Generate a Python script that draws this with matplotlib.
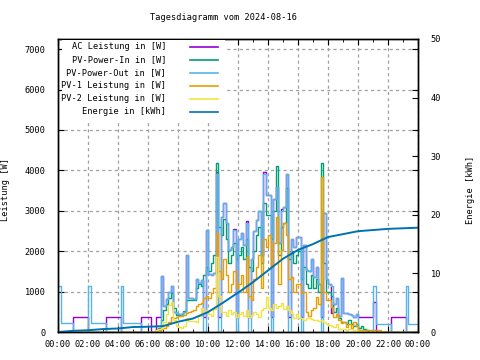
import numpy as np
import matplotlib.pyplot as plt
from matplotlib.patches import Rectangle

plt.rcParams['font.family'] = 'DejaVu Sans Mono'
plt.rcParams['font.size'] = 6.2

# 10-minute samples over the day: 00:00 .. 24:00 (145 points)
hours = np.arange(145) / 6.0

# night 00:00-05:50 (36 samples)
ac_night = [0] * 6 + [360] * 6 + [0] * 7 + [360] * 6 + [0] * 8 + [360] * 3
out_night = [1150] + [230] * 5 + [0] * 6 + [1150] + [230] * 6 + [0] * 6 + [1150] + [230] * 7 + [0] * 3
zero_night = [0] * 36

# day 06:00-21:00 (91 samples), one row per hour
ac_day = [360, 0, 0, 360, 360, 1390,
          650, 820, 980, 1150, 500, 470,
          440, 420, 500, 1900, 830, 850,
          820, 1300, 1220, 1290, 380, 2520,
          1430, 1400, 1450, 3950, 380, 2840,
          3190, 2700, 2030, 2100, 2560, 380,
          2300, 2450, 2150, 2750, 380, 1800,
          2500, 2780, 3000, 1900, 3950, 3400,
          3400, 380, 3300, 3600, 2200, 3050,
          3100, 3900, 380, 2290, 2100, 2360,
          2360, 380, 2150, 1530, 1500, 1800,
          1370, 1600, 1200, 380, 2940, 1300,
          1200, 460, 700, 850, 400, 1330,
          460, 480, 440, 420, 380, 450,
          364, 364, 364, 364, 364, 364,
          750]
in_day = [0, 0, 0, 50, 100, 300,
          540, 700, 850, 970, 600, 420,
          420, 450, 520, 800, 780, 800,
          800, 1100, 1200, 1150, 1400, 1620,
          1500, 1700, 1900, 4170, 2600, 2400,
          2800, 2300, 1700, 1900, 2200, 1800,
          1900, 2100, 1800, 2300, 1600, 1500,
          2000, 2400, 2600, 1700, 3200, 2900,
          2900, 2300, 3000, 4110, 1900, 2600,
          2700, 3560, 1800, 2000, 1700, 1900,
          2000, 1300, 1600, 1200, 1100, 1400,
          1100, 1300, 1000, 4170, 1700, 1000,
          1000, 900, 500, 600, 350, 250,
          250, 200, 300, 200, 150, 200,
          100, 150, 80, 50, 0, 0,
          0]
out_day = [0, 0, 0, 0, 0, 1390,
           650, 820, 980, 1150, 500, 470,
           440, 420, 500, 1900, 830, 850,
           820, 1300, 1220, 1290, 0, 2520,
           1430, 1400, 1450, 3900, 0, 2840,
           3190, 2700, 2030, 2100, 2520, 0,
           2300, 2450, 2150, 2700, 0, 1800,
           2500, 2780, 3000, 1900, 3900, 3400,
           3400, 0, 3300, 3600, 2200, 3000,
           3100, 3900, 0, 2290, 2100, 2360,
           2360, 0, 2150, 1530, 1500, 1800,
           1370, 1600, 1200, 0, 2940, 1300,
           1200, 1150, 700, 850, 400, 1330,
           460, 480, 440, 420, 380, 450,
           0, 0, 0, 0, 0, 0,
           1140]
pv1_day = [0, 0, 0, 30, 50, 80,
           100, 150, 250, 380, 350, 380,
           400, 400, 420, 460, 500, 520,
           550, 650, 700, 710, 850, 900,
           850, 960, 1100, 2450, 1500, 1300,
           1800, 1400, 1000, 1200, 1500, 1100,
           1200, 1400, 1000, 1860, 900, 800,
           1300, 1600, 1900, 1100, 2300, 2100,
           2400, 1600, 2200, 2850, 1200, 2030,
           2700, 2400, 1300, 1370, 1000, 1200,
           1200, 960, 1000, 500, 400, 540,
           600, 870, 700, 3840, 1000, 800,
           800, 620, 370, 450, 300, 230,
           250, 120, 200, 100, 250, 150,
           50, 50, 50, 50, 50, 50,
           50]
pv2_day = [0, 0, 0, 50, 80, 100,
           250, 450, 670, 750, 300, 150,
           130, 100, 150, 340, 260, 260,
           260, 250, 400, 590, 500, 550,
           450, 400, 560, 1860, 900, 500,
           500, 400, 550, 450, 500, 380,
           450, 500, 400, 540, 370, 420,
           500, 450, 380, 540, 600, 870,
           600, 540, 700, 600, 650, 710,
           560, 650, 540, 480, 350, 450,
           350, 340, 300, 350, 340, 320,
           300, 300, 280, 300, 250, 200,
           180, 150, 130, 200, 70, 80,
           70, 60, 70, 80, 60, 50,
           30, 20, 0, 0, 0, 0,
           0]

# evening 21:10-24:00 (18 samples)
ac_eve = [0] * 6 + [364] * 6 + [0] * 6
out_eve = [200] * 6 + [0] * 6 + [1140] + [200] * 5
pv1_eve = [50, 50] + [0] * 16
zero_eve = [0] * 18

ac = ac_night + ac_day + ac_eve
pv_in = zero_night + in_day + zero_eve
pv_out = out_night + out_day + out_eve
pv1 = zero_night + pv1_day + pv1_eve
pv2 = zero_night + pv2_day + zero_eve

# cumulative energy, hourly
energy_hours = list(range(25))
energy = [0.0, 0.2, 0.3, 0.5, 0.6, 0.85, 0.9, 1.0, 1.75, 2.3, 3.4, 5.0, 6.7,
          8.5, 10.5, 12.5, 14.0, 15.0, 16.2, 16.7, 17.2, 17.4, 17.6, 17.7, 17.8]

labels = ['AC Leistung in [W]', 'PV-Power-In in [W]', 'PV-Power-Out in [W]',
          'PV-1 Leistung in [W]', 'PV-2 Leistung in [W]', 'Energie in [kWh]']
colors = ['#9400D3', '#009E73', '#56B4E9', '#E69F00', '#F0E442', '#0072B2']

fig = plt.figure(figsize=(4.8, 3.6), dpi=100)
ax = fig.add_axes([58 / 480, 1 - 332 / 360, 360 / 480, 293 / 360])
ax2 = ax.twinx()

for y, c in zip([ac, pv_in, pv_out, pv1, pv2], colors[:5]):
    ax.plot(hours, y, drawstyle='steps-post', color=c, lw=1.0, zorder=2)
ax2.plot(energy_hours, energy, color=colors[5], lw=1.4)

ax.set_xlim(0, 24)
ax.set_ylim(0, 7250)
ax2.set_ylim(0, 50)
ax.set_xticks(range(0, 25, 2))
ax.set_xticks(range(0, 25), minor=True)
ax.set_xticklabels([f'{h % 24:02d}:00' for h in range(0, 25, 2)])
ax.set_yticks(range(0, 7001, 1000))
ax2.set_yticks(range(0, 51, 10))

ax.tick_params(direction='in', length=4, top=True, right=True, pad=6)
ax.tick_params(axis='y', pad=9)
ax.tick_params(which='minor', direction='in', length=2, top=True)
ax2.tick_params(direction='in', length=4, pad=9)

ax.set_axisbelow(True)
ax.grid(True, color='#a0a0a0', linestyle=(0, (2.5, 2.5)), lw=0.9)

ax.set_ylabel('Leistung [W]')
ax.yaxis.set_label_coords(-0.133, 0.485)
ax2.set_ylabel('Energie [kWh]', rotation=90)
ax2.yaxis.set_label_coords(1.133, 0.485)
fig.text(224 / 480, 1 - 18 / 360, 'Tagesdiagramm vom 2024-08-16', ha='center', va='center')

# key in the upper left corner on a white patch
ax2.add_patch(Rectangle((0.012, 0.724), 0.452, 0.274, transform=ax2.transAxes,
                        facecolor='white', edgecolor='none', zorder=3))
for i, (lab, c) in enumerate(zip(labels, colors)):
    yk = 0.973 - i * 0.0444
    ax2.text(0.30, yk, lab, transform=ax2.transAxes, ha='right', va='center', zorder=4)
    ax2.plot([0.367, 0.444], [yk, yk], transform=ax2.transAxes, color=c, lw=1.2, zorder=4)

for a in (ax, ax2):
    for s in a.spines.values():
        s.set_linewidth(1.0)

plt.savefig('out.png', dpi=100)
plt.close()
